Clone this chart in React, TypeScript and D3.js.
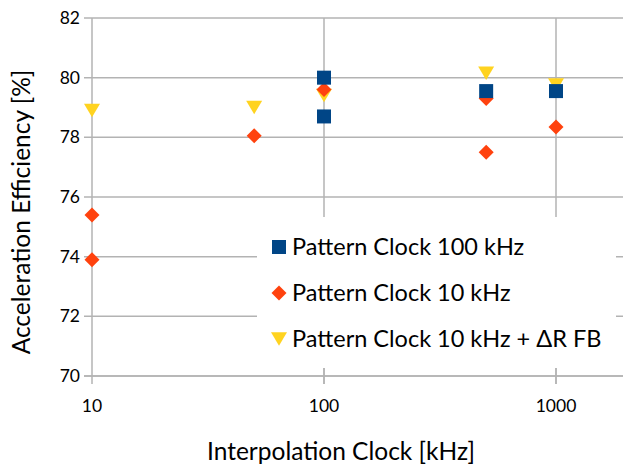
import React from "react";
import * as d3 from "d3";

const width = 623;
const height = 465;
const margin = { left: 92, top: 18, right: 0, bottom: 89 };

// Pattern Clock 100 kHz
const clk100X = [100, 100, 500, 1000];
const clk100Y = [80.0, 78.7, 79.55, 79.55];
// Pattern Clock 10 kHz
const clk10X = [10, 10, 50, 100, 500, 500, 1000];
const clk10Y = [75.4, 73.9, 78.05, 79.6, 79.3, 77.5, 78.35];
// Pattern Clock 10 kHz + dR FB
const fbX = [10, 50, 100, 500, 1000];
const fbY = [78.9, 79.0, 79.4, 80.15, 79.75];

const yTicks = [70, 72, 74, 76, 78, 80, 82];
const xTicks = [10, 100, 1000];
const legendLabels = ["Pattern Clock 100 kHz", "Pattern Clock 10 kHz", "Pattern Clock 10 kHz + ΔR FB"];

const colors = ["#004586", "#ff420e", "#ffd320"];
const font = "Lato, 'Noto Sans', sans-serif";

const x = d3.scaleLog().domain([10, 2000]).range([margin.left, 92 + 232 * Math.log10(200)]);
const y = d3.scaleLinear().domain([70, 82]).range([height - margin.bottom, margin.top]);

const sq = d3.symbol().type(d3.symbolSquare).size(196);
const dia = (s: number) => `M0,${-s}L${s},0L0,${s}L${-s},0Z`;
const tri = (w: number) => `M${-w},${-w * 0.85}L${w},${-w * 0.85}L0,${w * 0.85}Z`;

export default function App() {
  const x0 = margin.left;
  const x1 = width;
  const y0 = y(70);
  return (
    <svg width={width} height={height} style={{ position: "absolute", left: 0, top: 0, background: "#fff" }}>
      {yTicks.map((t) => (
        <g key={"y" + t}>
          <line x1={x0 - 8} x2={x1} y1={y(t)} y2={y(t)} stroke="#b3b3b3" strokeWidth={1.5} />
          <text x={x0 - 12} y={y(t)} dy="0.35em" textAnchor="end" fontFamily={font} fontSize={17.5} fill="#000">
            {t}
          </text>
        </g>
      ))}
      {xTicks.map((t) => (
        <g key={"x" + t}>
          <line x1={x(t)} x2={x(t)} y1={margin.top} y2={y0 + 8} stroke="#b3b3b3" strokeWidth={1.5} />
          <text x={x(t)} y={y0 + 36} textAnchor="middle" fontFamily={font} fontSize={17.5} fill="#000">
            {t}
          </text>
        </g>
      ))}
      <rect x={257} y={217} width={359} height={151} fill="#fff" />
      <line x1={x(100)} x2={x(100)} y1={368} y2={y0 + 8} stroke="#b3b3b3" strokeWidth={1.5} />
      <line x1={x(1000)} x2={x(1000)} y1={368} y2={y0 + 8} stroke="#b3b3b3" strokeWidth={1.5} />
      <line x1={x0 - 8} x2={x1} y1={y0} y2={y0} stroke="#b3b3b3" strokeWidth={1.5} />

      {fbX.map((v, i) => (
        <path key={"f" + i} d={tri(8)} transform={`translate(${x(v)},${y(fbY[i])})`} fill={colors[2]} />
      ))}
      {clk10X.map((v, i) => (
        <path key={"d" + i} d={dia(7.5)} transform={`translate(${x(v)},${y(clk10Y[i])})`} fill={colors[1]} />
      ))}
      {clk100X.map((v, i) => (
        <path key={"s" + i} d={sq() || ""} transform={`translate(${x(v)},${y(clk100Y[i])})`} fill={colors[0]} />
      ))}

      {legendLabels.map((l, i) => {
        const ly = 247 + i * 46;
        const m = i === 0 ? sq() || "" : i === 1 ? dia(7.5) : tri(8);
        return (
          <g key={l}>
            <path d={m} transform={`translate(279,${ly})`} fill={colors[i]} />
            <text x={292} y={ly} dy="0.35em" fontFamily={font} fontSize={23.5} fill="#000">
              {l}
            </text>
          </g>
        );
      })}

      <text x={341} y={460} textAnchor="middle" fontFamily={font} fontSize={24.5} fill="#000">
        Interpolation Clock [kHz]
      </text>
      <text transform={`translate(30,212) rotate(-90)`} textAnchor="middle" fontFamily={font} fontSize={24.5} fill="#000">
        Acceleration Efficiency [%]
      </text>
    </svg>
  );
}
